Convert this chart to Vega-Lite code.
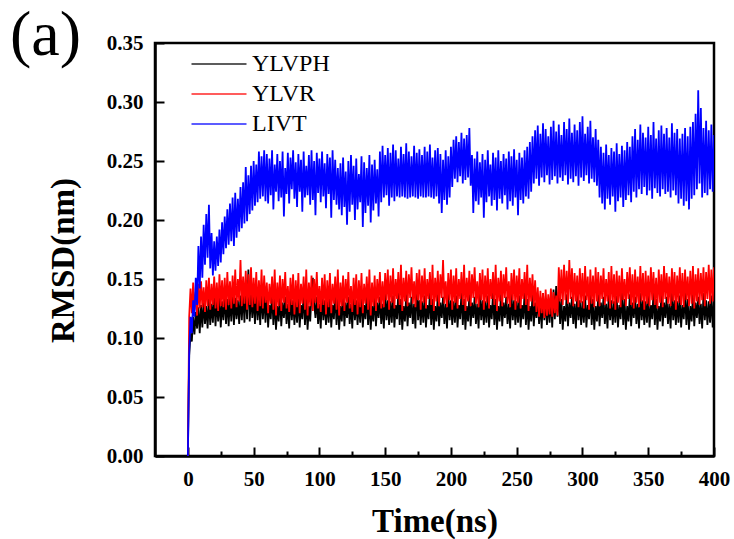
{
"$schema": "https://vega.github.io/schema/vega-lite/v6.json",
"width": 559, "height": 413,
"autosize": "none",
"padding": {"left": 155, "top": 43, "right": 20, "bottom": 83},
"background": "white",
"title": {"text": "(a)", "anchor": "start", "frame": "group", "orient": "top", "font": "Liberation Serif", "fontSize": 64, "fontWeight": "normal", "color": "black", "baseline": "alphabetic", "offset": -87, "dx": -145},
"config": {
 "view": {"stroke": "black", "strokeWidth": 2.5},
 "axis": {"grid": false, "domainColor": "black", "domainWidth": 2.5, "tickColor": "black", "tickWidth": 2, "labelFont": "Liberation Serif", "labelFontWeight": "bold", "labelFontSize": 21, "labelColor": "black", "titleFont": "Liberation Serif", "titleFontWeight": "bold", "titleFontSize": 33, "titleColor": "black", "labelFlush": false, "labelOverlap": false, "labelBound": false}
},
"data": {"values": [
{"t":0,"a":0,"b":0,"c":0},
{"t":1,"a":0.085,"b":0.118,"c":0.088},
{"t":2,"a":0.104,"b":0.142,"c":0.118},
{"t":3,"a":0.097,"b":0.121,"c":0.104},
{"t":4,"a":0.118,"b":0.147,"c":0.132},
{"t":5,"a":0.103,"b":0.124,"c":0.118},
{"t":6,"a":0.122,"b":0.139,"c":0.151},
{"t":7,"a":0.108,"b":0.119,"c":0.128},
{"t":8,"a":0.126,"b":0.146,"c":0.178},
{"t":9,"a":0.104,"b":0.125,"c":0.142},
{"t":10,"a":0.128,"b":0.148,"c":0.186},
{"t":11,"a":0.109,"b":0.126,"c":0.151},
{"t":12,"a":0.131,"b":0.143,"c":0.196},
{"t":13,"a":0.112,"b":0.122,"c":0.162},
{"t":14,"a":0.127,"b":0.149,"c":0.205},
{"t":15,"a":0.108,"b":0.127,"c":0.168},
{"t":16,"a":0.133,"b":0.151,"c":0.213},
{"t":17,"a":0.111,"b":0.124,"c":0.159},
{"t":18,"a":0.129,"b":0.146,"c":0.189},
{"t":19,"a":0.113,"b":0.128,"c":0.153},
{"t":20,"a":0.136,"b":0.152,"c":0.182},
{"t":21,"a":0.110,"b":0.125,"c":0.157},
{"t":22,"a":0.132,"b":0.147,"c":0.186},
{"t":23,"a":0.114,"b":0.123,"c":0.161},
{"t":24,"a":0.134,"b":0.154,"c":0.192},
{"t":25,"a":0.109,"b":0.127,"c":0.164},
{"t":26,"a":0.131,"b":0.149,"c":0.198},
{"t":27,"a":0.115,"b":0.126,"c":0.171},
{"t":28,"a":0.137,"b":0.151,"c":0.203},
{"t":29,"a":0.112,"b":0.124,"c":0.176},
{"t":30,"a":0.133,"b":0.156,"c":0.209},
{"t":31,"a":0.110,"b":0.128,"c":0.179},
{"t":32,"a":0.135,"b":0.148,"c":0.214},
{"t":33,"a":0.114,"b":0.125,"c":0.182},
{"t":34,"a":0.138,"b":0.153,"c":0.219},
{"t":35,"a":0.111,"b":0.129,"c":0.178},
{"t":36,"a":0.134,"b":0.158,"c":0.223},
{"t":37,"a":0.116,"b":0.126,"c":0.185},
{"t":38,"a":0.132,"b":0.150,"c":0.218},
{"t":39,"a":0.112,"b":0.131,"c":0.190},
{"t":40,"a":0.136,"b":0.166,"c":0.228},
{"t":41,"a":0.115,"b":0.127,"c":0.193},
{"t":42,"a":0.139,"b":0.152,"c":0.232},
{"t":43,"a":0.113,"b":0.129,"c":0.197},
{"t":44,"a":0.141,"b":0.157,"c":0.245},
{"t":45,"a":0.116,"b":0.124,"c":0.199},
{"t":46,"a":0.158,"b":0.154,"c":0.238},
{"t":47,"a":0.114,"b":0.128,"c":0.205},
{"t":48,"a":0.137,"b":0.160,"c":0.246},
{"t":49,"a":0.117,"b":0.126,"c":0.208},
{"t":50,"a":0.135,"b":0.151,"c":0.250},
{"t":51,"a":0.112,"b":0.129,"c":0.212},
{"t":52,"a":0.138,"b":0.156,"c":0.247},
{"t":53,"a":0.115,"b":0.123,"c":0.215},
{"t":54,"a":0.134,"b":0.149,"c":0.258},
{"t":55,"a":0.111,"b":0.127,"c":0.218},
{"t":56,"a":0.139,"b":0.158,"c":0.254},
{"t":57,"a":0.116,"b":0.125,"c":0.220},
{"t":58,"a":0.136,"b":0.153,"c":0.259},
{"t":59,"a":0.113,"b":0.130,"c":0.216},
{"t":60,"a":0.140,"b":0.147,"c":0.256},
{"t":61,"a":0.109,"b":0.121,"c":0.214},
{"t":62,"a":0.128,"b":0.146,"c":0.252},
{"t":63,"a":0.116,"b":0.129,"c":0.221},
{"t":64,"a":0.139,"b":0.152,"c":0.259},
{"t":65,"a":0.111,"b":0.124,"c":0.209},
{"t":66,"a":0.133,"b":0.158,"c":0.247},
{"t":67,"a":0.107,"b":0.119,"c":0.224},
{"t":68,"a":0.127,"b":0.147,"c":0.256},
{"t":69,"a":0.114,"b":0.127,"c":0.216},
{"t":70,"a":0.137,"b":0.153,"c":0.250},
{"t":71,"a":0.110,"b":0.123,"c":0.219},
{"t":72,"a":0.130,"b":0.150,"c":0.258},
{"t":73,"a":0.117,"b":0.130,"c":0.203},
{"t":74,"a":0.135,"b":0.156,"c":0.244},
{"t":75,"a":0.112,"b":0.125,"c":0.222},
{"t":76,"a":0.129,"b":0.144,"c":0.257},
{"t":77,"a":0.108,"b":0.122,"c":0.214},
{"t":78,"a":0.138,"b":0.151,"c":0.253},
{"t":79,"a":0.115,"b":0.128,"c":0.226},
{"t":80,"a":0.132,"b":0.154,"c":0.259},
{"t":81,"a":0.111,"b":0.120,"c":0.218},
{"t":82,"a":0.131,"b":0.149,"c":0.249},
{"t":83,"a":0.113,"b":0.126,"c":0.211},
{"t":84,"a":0.136,"b":0.155,"c":0.256},
{"t":85,"a":0.109,"b":0.121,"c":0.224},
{"t":86,"a":0.128,"b":0.146,"c":0.251},
{"t":87,"a":0.116,"b":0.129,"c":0.207},
{"t":88,"a":0.139,"b":0.152,"c":0.258},
{"t":89,"a":0.111,"b":0.124,"c":0.219},
{"t":90,"a":0.133,"b":0.158,"c":0.246},
{"t":91,"a":0.107,"b":0.119,"c":0.221},
{"t":92,"a":0.127,"b":0.147,"c":0.255},
{"t":93,"a":0.114,"b":0.127,"c":0.213},
{"t":94,"a":0.137,"b":0.153,"c":0.259},
{"t":95,"a":0.151,"b":0.123,"c":0.217},
{"t":96,"a":0.130,"b":0.150,"c":0.250},
{"t":97,"a":0.117,"b":0.130,"c":0.204},
{"t":98,"a":0.135,"b":0.156,"c":0.257},
{"t":99,"a":0.112,"b":0.125,"c":0.223},
{"t":100,"a":0.129,"b":0.144,"c":0.252},
{"t":101,"a":0.108,"b":0.122,"c":0.215},
{"t":102,"a":0.138,"b":0.151,"c":0.258},
{"t":103,"a":0.115,"b":0.128,"c":0.220},
{"t":104,"a":0.132,"b":0.154,"c":0.248},
{"t":105,"a":0.111,"b":0.120,"c":0.210},
{"t":106,"a":0.131,"b":0.149,"c":0.256},
{"t":107,"a":0.113,"b":0.126,"c":0.222},
{"t":108,"a":0.136,"b":0.155,"c":0.253},
{"t":109,"a":0.109,"b":0.121,"c":0.202},
{"t":110,"a":0.128,"b":0.146,"c":0.259},
{"t":111,"a":0.116,"b":0.129,"c":0.217},
{"t":112,"a":0.139,"b":0.152,"c":0.251},
{"t":113,"a":0.111,"b":0.124,"c":0.213},
{"t":114,"a":0.133,"b":0.158,"c":0.244},
{"t":115,"a":0.107,"b":0.119,"c":0.209},
{"t":116,"a":0.127,"b":0.147,"c":0.248},
{"t":117,"a":0.114,"b":0.127,"c":0.204},
{"t":118,"a":0.137,"b":0.153,"c":0.253},
{"t":119,"a":0.110,"b":0.123,"c":0.211},
{"t":120,"a":0.130,"b":0.150,"c":0.241},
{"t":121,"a":0.117,"b":0.130,"c":0.196},
{"t":122,"a":0.135,"b":0.156,"c":0.250},
{"t":123,"a":0.112,"b":0.125,"c":0.207},
{"t":124,"a":0.129,"b":0.144,"c":0.255},
{"t":125,"a":0.108,"b":0.122,"c":0.213},
{"t":126,"a":0.138,"b":0.151,"c":0.246},
{"t":127,"a":0.115,"b":0.128,"c":0.200},
{"t":128,"a":0.132,"b":0.154,"c":0.252},
{"t":129,"a":0.111,"b":0.120,"c":0.209},
{"t":130,"a":0.131,"b":0.149,"c":0.239},
{"t":131,"a":0.113,"b":0.126,"c":0.215},
{"t":132,"a":0.136,"b":0.155,"c":0.254},
{"t":133,"a":0.109,"b":0.121,"c":0.194},
{"t":134,"a":0.128,"b":0.146,"c":0.249},
{"t":135,"a":0.116,"b":0.129,"c":0.206},
{"t":136,"a":0.139,"b":0.152,"c":0.244},
{"t":137,"a":0.111,"b":0.124,"c":0.212},
{"t":138,"a":0.133,"b":0.158,"c":0.255},
{"t":139,"a":0.107,"b":0.119,"c":0.198},
{"t":140,"a":0.127,"b":0.147,"c":0.247},
{"t":141,"a":0.114,"b":0.127,"c":0.208},
{"t":142,"a":0.137,"b":0.153,"c":0.251},
{"t":143,"a":0.110,"b":0.123,"c":0.214},
{"t":144,"a":0.130,"b":0.150,"c":0.243},
{"t":145,"a":0.117,"b":0.130,"c":0.203},
{"t":146,"a":0.135,"b":0.156,"c":0.258},
{"t":147,"a":0.112,"b":0.125,"c":0.215},
{"t":148,"a":0.129,"b":0.148,"c":0.263},
{"t":149,"a":0.108,"b":0.126,"c":0.219},
{"t":150,"a":0.138,"b":0.155,"c":0.255},
{"t":151,"a":0.115,"b":0.132,"c":0.221},
{"t":152,"a":0.132,"b":0.158,"c":0.261},
{"t":153,"a":0.111,"b":0.124,"c":0.212},
{"t":154,"a":0.131,"b":0.153,"c":0.257},
{"t":155,"a":0.113,"b":0.130,"c":0.219},
{"t":156,"a":0.136,"b":0.159,"c":0.264},
{"t":157,"a":0.109,"b":0.125,"c":0.216},
{"t":158,"a":0.128,"b":0.150,"c":0.259},
{"t":159,"a":0.116,"b":0.133,"c":0.220},
{"t":160,"a":0.139,"b":0.156,"c":0.252},
{"t":161,"a":0.111,"b":0.128,"c":0.219},
{"t":162,"a":0.133,"b":0.162,"c":0.262},
{"t":163,"a":0.107,"b":0.123,"c":0.220},
{"t":164,"a":0.127,"b":0.151,"c":0.256},
{"t":165,"a":0.114,"b":0.131,"c":0.219},
{"t":166,"a":0.137,"b":0.157,"c":0.265},
{"t":167,"a":0.110,"b":0.127,"c":0.218},
{"t":168,"a":0.130,"b":0.154,"c":0.258},
{"t":169,"a":0.117,"b":0.134,"c":0.219},
{"t":170,"a":0.135,"b":0.160,"c":0.254},
{"t":171,"a":0.112,"b":0.129,"c":0.220},
{"t":172,"a":0.129,"b":0.148,"c":0.263},
{"t":173,"a":0.108,"b":0.126,"c":0.219},
{"t":174,"a":0.149,"b":0.155,"c":0.257},
{"t":175,"a":0.115,"b":0.132,"c":0.218},
{"t":176,"a":0.132,"b":0.158,"c":0.260},
{"t":177,"a":0.111,"b":0.124,"c":0.220},
{"t":178,"a":0.131,"b":0.153,"c":0.255},
{"t":179,"a":0.113,"b":0.130,"c":0.219},
{"t":180,"a":0.136,"b":0.159,"c":0.262},
{"t":181,"a":0.109,"b":0.125,"c":0.219},
{"t":182,"a":0.128,"b":0.150,"c":0.258},
{"t":183,"a":0.116,"b":0.133,"c":0.220},
{"t":184,"a":0.139,"b":0.156,"c":0.264},
{"t":185,"a":0.111,"b":0.128,"c":0.219},
{"t":186,"a":0.133,"b":0.162,"c":0.253},
{"t":187,"a":0.107,"b":0.123,"c":0.218},
{"t":188,"a":0.127,"b":0.151,"c":0.259},
{"t":189,"a":0.114,"b":0.131,"c":0.220},
{"t":190,"a":0.137,"b":0.157,"c":0.261},
{"t":191,"a":0.110,"b":0.127,"c":0.214},
{"t":192,"a":0.130,"b":0.154,"c":0.256},
{"t":193,"a":0.117,"b":0.134,"c":0.206},
{"t":194,"a":0.135,"b":0.166,"c":0.251},
{"t":195,"a":0.112,"b":0.129,"c":0.217},
{"t":196,"a":0.129,"b":0.148,"c":0.259},
{"t":197,"a":0.108,"b":0.126,"c":0.213},
{"t":198,"a":0.138,"b":0.155,"c":0.254},
{"t":199,"a":0.115,"b":0.132,"c":0.219},
{"t":200,"a":0.132,"b":0.158,"c":0.262},
{"t":201,"a":0.111,"b":0.124,"c":0.228},
{"t":202,"a":0.131,"b":0.153,"c":0.268},
{"t":203,"a":0.113,"b":0.130,"c":0.235},
{"t":204,"a":0.136,"b":0.159,"c":0.271},
{"t":205,"a":0.109,"b":0.125,"c":0.232},
{"t":206,"a":0.128,"b":0.150,"c":0.266},
{"t":207,"a":0.116,"b":0.133,"c":0.237},
{"t":208,"a":0.139,"b":0.156,"c":0.274},
{"t":209,"a":0.111,"b":0.128,"c":0.231},
{"t":210,"a":0.133,"b":0.162,"c":0.269},
{"t":211,"a":0.107,"b":0.123,"c":0.234},
{"t":212,"a":0.127,"b":0.151,"c":0.272},
{"t":213,"a":0.114,"b":0.131,"c":0.236},
{"t":214,"a":0.137,"b":0.157,"c":0.278},
{"t":215,"a":0.110,"b":0.127,"c":0.229},
{"t":216,"a":0.130,"b":0.154,"c":0.255},
{"t":217,"a":0.117,"b":0.134,"c":0.206},
{"t":218,"a":0.135,"b":0.160,"c":0.252},
{"t":219,"a":0.112,"b":0.129,"c":0.216},
{"t":220,"a":0.129,"b":0.148,"c":0.258},
{"t":221,"a":0.108,"b":0.126,"c":0.213},
{"t":222,"a":0.138,"b":0.155,"c":0.249},
{"t":223,"a":0.115,"b":0.132,"c":0.219},
{"t":224,"a":0.132,"b":0.158,"c":0.256},
{"t":225,"a":0.111,"b":0.124,"c":0.202},
{"t":226,"a":0.131,"b":0.153,"c":0.251},
{"t":227,"a":0.113,"b":0.130,"c":0.215},
{"t":228,"a":0.136,"b":0.159,"c":0.259},
{"t":229,"a":0.109,"b":0.125,"c":0.220},
{"t":230,"a":0.128,"b":0.150,"c":0.247},
{"t":231,"a":0.116,"b":0.133,"c":0.212},
{"t":232,"a":0.139,"b":0.156,"c":0.257},
{"t":233,"a":0.111,"b":0.128,"c":0.217},
{"t":234,"a":0.133,"b":0.162,"c":0.253},
{"t":235,"a":0.107,"b":0.123,"c":0.208},
{"t":236,"a":0.127,"b":0.151,"c":0.259},
{"t":237,"a":0.114,"b":0.131,"c":0.218},
{"t":238,"a":0.137,"b":0.157,"c":0.250},
{"t":239,"a":0.110,"b":0.127,"c":0.214},
{"t":240,"a":0.130,"b":0.154,"c":0.256},
{"t":241,"a":0.117,"b":0.134,"c":0.221},
{"t":242,"a":0.135,"b":0.160,"c":0.252},
{"t":243,"a":0.112,"b":0.129,"c":0.209},
{"t":244,"a":0.129,"b":0.148,"c":0.258},
{"t":245,"a":0.108,"b":0.126,"c":0.216},
{"t":246,"a":0.138,"b":0.155,"c":0.254},
{"t":247,"a":0.115,"b":0.132,"c":0.212},
{"t":248,"a":0.132,"b":0.158,"c":0.260},
{"t":249,"a":0.111,"b":0.124,"c":0.219},
{"t":250,"a":0.131,"b":0.153,"c":0.251},
{"t":251,"a":0.113,"b":0.130,"c":0.204},
{"t":252,"a":0.136,"b":0.159,"c":0.257},
{"t":253,"a":0.109,"b":0.125,"c":0.217},
{"t":254,"a":0.128,"b":0.150,"c":0.253},
{"t":255,"a":0.116,"b":0.133,"c":0.214},
{"t":256,"a":0.139,"b":0.156,"c":0.259},
{"t":257,"a":0.111,"b":0.128,"c":0.220},
{"t":258,"a":0.133,"b":0.162,"c":0.262},
{"t":259,"a":0.107,"b":0.123,"c":0.218},
{"t":260,"a":0.127,"b":0.151,"c":0.266},
{"t":261,"a":0.114,"b":0.131,"c":0.224},
{"t":262,"a":0.137,"b":0.154,"c":0.271},
{"t":263,"a":0.110,"b":0.127,"c":0.231},
{"t":264,"a":0.130,"b":0.149,"c":0.276},
{"t":265,"a":0.117,"b":0.122,"c":0.235},
{"t":266,"a":0.135,"b":0.143,"c":0.280},
{"t":267,"a":0.112,"b":0.118,"c":0.229},
{"t":268,"a":0.129,"b":0.140,"c":0.273},
{"t":269,"a":0.108,"b":0.121,"c":0.236},
{"t":270,"a":0.138,"b":0.138,"c":0.282},
{"t":271,"a":0.115,"b":0.117,"c":0.232},
{"t":272,"a":0.132,"b":0.141,"c":0.277},
{"t":273,"a":0.111,"b":0.119,"c":0.238},
{"t":274,"a":0.131,"b":0.137,"c":0.271},
{"t":275,"a":0.113,"b":0.120,"c":0.230},
{"t":276,"a":0.136,"b":0.142,"c":0.279},
{"t":277,"a":0.109,"b":0.118,"c":0.234},
{"t":278,"a":0.141,"b":0.139,"c":0.284},
{"t":279,"a":0.116,"b":0.121,"c":0.237},
{"t":280,"a":0.144,"b":0.136,"c":0.275},
{"t":281,"a":0.118,"b":0.119,"c":0.231},
{"t":282,"a":0.139,"b":0.160,"c":0.281},
{"t":283,"a":0.112,"b":0.131,"c":0.236},
{"t":284,"a":0.133,"b":0.158,"c":0.272},
{"t":285,"a":0.107,"b":0.128,"c":0.233},
{"t":286,"a":0.127,"b":0.162,"c":0.283},
{"t":287,"a":0.114,"b":0.132,"c":0.238},
{"t":288,"a":0.137,"b":0.157,"c":0.277},
{"t":289,"a":0.110,"b":0.129,"c":0.230},
{"t":290,"a":0.130,"b":0.166,"c":0.286},
{"t":291,"a":0.117,"b":0.133,"c":0.235},
{"t":292,"a":0.135,"b":0.159,"c":0.274},
{"t":293,"a":0.112,"b":0.127,"c":0.232},
{"t":294,"a":0.129,"b":0.155,"c":0.281},
{"t":295,"a":0.108,"b":0.131,"c":0.237},
{"t":296,"a":0.138,"b":0.153,"c":0.276},
{"t":297,"a":0.115,"b":0.126,"c":0.229},
{"t":298,"a":0.132,"b":0.159,"c":0.283},
{"t":299,"a":0.111,"b":0.130,"c":0.236},
{"t":300,"a":0.131,"b":0.155,"c":0.288},
{"t":301,"a":0.113,"b":0.125,"c":0.233},
{"t":302,"a":0.136,"b":0.161,"c":0.273},
{"t":303,"a":0.109,"b":0.132,"c":0.238},
{"t":304,"a":0.128,"b":0.152,"c":0.279},
{"t":305,"a":0.116,"b":0.124,"c":0.231},
{"t":306,"a":0.139,"b":0.158,"c":0.284},
{"t":307,"a":0.111,"b":0.129,"c":0.235},
{"t":308,"a":0.133,"b":0.153,"c":0.270},
{"t":309,"a":0.107,"b":0.126,"c":0.232},
{"t":310,"a":0.127,"b":0.160,"c":0.277},
{"t":311,"a":0.114,"b":0.131,"c":0.229},
{"t":312,"a":0.137,"b":0.156,"c":0.268},
{"t":313,"a":0.110,"b":0.127,"c":0.219},
{"t":314,"a":0.130,"b":0.153,"c":0.262},
{"t":315,"a":0.117,"b":0.133,"c":0.214},
{"t":316,"a":0.135,"b":0.159,"c":0.257},
{"t":317,"a":0.112,"b":0.128,"c":0.209},
{"t":318,"a":0.129,"b":0.150,"c":0.264},
{"t":319,"a":0.108,"b":0.131,"c":0.218},
{"t":320,"a":0.138,"b":0.156,"c":0.255},
{"t":321,"a":0.115,"b":0.125,"c":0.213},
{"t":322,"a":0.132,"b":0.161,"c":0.261},
{"t":323,"a":0.111,"b":0.129,"c":0.220},
{"t":324,"a":0.131,"b":0.154,"c":0.258},
{"t":325,"a":0.113,"b":0.124,"c":0.207},
{"t":326,"a":0.136,"b":0.157,"c":0.265},
{"t":327,"a":0.109,"b":0.130,"c":0.216},
{"t":328,"a":0.128,"b":0.153,"c":0.256},
{"t":329,"a":0.116,"b":0.126,"c":0.219},
{"t":330,"a":0.139,"b":0.159,"c":0.263},
{"t":331,"a":0.111,"b":0.132,"c":0.211},
{"t":332,"a":0.133,"b":0.150,"c":0.259},
{"t":333,"a":0.107,"b":0.127,"c":0.217},
{"t":334,"a":0.127,"b":0.156,"c":0.266},
{"t":335,"a":0.114,"b":0.133,"c":0.221},
{"t":336,"a":0.137,"b":0.160,"c":0.262},
{"t":337,"a":0.110,"b":0.128,"c":0.215},
{"t":338,"a":0.130,"b":0.154,"c":0.271},
{"t":339,"a":0.117,"b":0.125,"c":0.224},
{"t":340,"a":0.135,"b":0.158,"c":0.277},
{"t":341,"a":0.112,"b":0.130,"c":0.219},
{"t":342,"a":0.129,"b":0.152,"c":0.268},
{"t":343,"a":0.108,"b":0.126,"c":0.226},
{"t":344,"a":0.138,"b":0.161,"c":0.281},
{"t":345,"a":0.115,"b":0.131,"c":0.222},
{"t":346,"a":0.132,"b":0.155,"c":0.274},
{"t":347,"a":0.111,"b":0.124,"c":0.228},
{"t":348,"a":0.131,"b":0.157,"c":0.270},
{"t":349,"a":0.113,"b":0.129,"c":0.221},
{"t":350,"a":0.136,"b":0.153,"c":0.279},
{"t":351,"a":0.109,"b":0.127,"c":0.225},
{"t":352,"a":0.128,"b":0.160,"c":0.272},
{"t":353,"a":0.116,"b":0.132,"c":0.218},
{"t":354,"a":0.139,"b":0.156,"c":0.283},
{"t":355,"a":0.111,"b":0.128,"c":0.227},
{"t":356,"a":0.133,"b":0.151,"c":0.269},
{"t":357,"a":0.107,"b":0.125,"c":0.223},
{"t":358,"a":0.127,"b":0.158,"c":0.276},
{"t":359,"a":0.114,"b":0.130,"c":0.220},
{"t":360,"a":0.137,"b":0.154,"c":0.280},
{"t":361,"a":0.110,"b":0.126,"c":0.226},
{"t":362,"a":0.130,"b":0.161,"c":0.273},
{"t":363,"a":0.117,"b":0.133,"c":0.222},
{"t":364,"a":0.135,"b":0.155,"c":0.278},
{"t":365,"a":0.112,"b":0.129,"c":0.224},
{"t":366,"a":0.129,"b":0.152,"c":0.270},
{"t":367,"a":0.108,"b":0.127,"c":0.219},
{"t":368,"a":0.138,"b":0.159,"c":0.282},
{"t":369,"a":0.115,"b":0.131,"c":0.225},
{"t":370,"a":0.132,"b":0.156,"c":0.274},
{"t":371,"a":0.111,"b":0.124,"c":0.221},
{"t":372,"a":0.131,"b":0.153,"c":0.277},
{"t":373,"a":0.113,"b":0.130,"c":0.214},
{"t":374,"a":0.136,"b":0.160,"c":0.269},
{"t":375,"a":0.109,"b":0.128,"c":0.218},
{"t":376,"a":0.128,"b":0.155,"c":0.273},
{"t":377,"a":0.116,"b":0.126,"c":0.212},
{"t":378,"a":0.139,"b":0.158,"c":0.278},
{"t":379,"a":0.111,"b":0.132,"c":0.216},
{"t":380,"a":0.133,"b":0.152,"c":0.271},
{"t":381,"a":0.107,"b":0.127,"c":0.209},
{"t":382,"a":0.127,"b":0.157,"c":0.279},
{"t":383,"a":0.114,"b":0.129,"c":0.218},
{"t":384,"a":0.137,"b":0.161,"c":0.283},
{"t":385,"a":0.110,"b":0.125,"c":0.221},
{"t":386,"a":0.130,"b":0.154,"c":0.290},
{"t":387,"a":0.117,"b":0.131,"c":0.226},
{"t":388,"a":0.135,"b":0.159,"c":0.310},
{"t":389,"a":0.112,"b":0.128,"c":0.231},
{"t":390,"a":0.129,"b":0.155,"c":0.295},
{"t":391,"a":0.108,"b":0.132,"c":0.219},
{"t":392,"a":0.138,"b":0.160,"c":0.278},
{"t":393,"a":0.115,"b":0.127,"c":0.223},
{"t":394,"a":0.132,"b":0.156,"c":0.284},
{"t":395,"a":0.111,"b":0.133,"c":0.221},
{"t":396,"a":0.131,"b":0.162,"c":0.276},
{"t":397,"a":0.113,"b":0.129,"c":0.226},
{"t":398,"a":0.136,"b":0.158,"c":0.281},
{"t":399,"a":0.109,"b":0.131,"c":0.224},
{"t":400,"a":0.133,"b":0.160,"c":0.272}
]},
"encoding": {
 "x": {"field": "t", "type": "quantitative", "title": "Time(ns)",
  "scale": {"domain": [-25, 400], "nice": false, "zero": false},
  "axis": {"values": [0,25,50,75,100,125,150,175,200,225,250,275,300,325,350,375,400],
   "labelExpr": "datum.value % 50 === 0 ? datum.label : ''",
   "tickSize": {"condition": {"test": "datum.value % 50 === 0", "value": -9}, "value": -5},
   "labelPadding": 21, "titlePadding": 12}}
},
"layer": [
 {"mark": {"type": "line", "strokeWidth": 1.8, "clip": true},
  "encoding": {
   "y": {"field": "a", "type": "quantitative", "title": "RMSD(nm)",
    "scale": {"domain": [0, 0.35], "nice": false, "zero": true},
    "axis": {"values": [0,0.025,0.05,0.075,0.1,0.125,0.15,0.175,0.2,0.225,0.25,0.275,0.3,0.325,0.35],
     "labelExpr": "round(datum.value*1000) % 50 === 0 ? format(datum.value, '.2f') : ''",
     "tickSize": {"condition": {"test": "round(datum.value*1000) % 50 === 0", "value": -9}, "value": -5},
     "labelPadding": 21, "titlePadding": 26, "titleY": 217}},
   "color": {"datum": "YLVPH", "type": "nominal",
    "scale": {"domain": ["YLVPH", "YLVR", "LIVT"], "range": ["black", "red", "blue"]},
    "legend": {"title": null, "orient": "none", "legendX": 52, "legendY": 9, "padding": 0,
     "symbolType": "M-5,0H5", "symbolSize": 121, "symbolStrokeWidth": 1.3, "symbolOpacity": 0.85,
     "labelFont": "Liberation Serif", "labelFontSize": 24, "labelColor": "black", "labelOffset": 21, "rowPadding": 6}}
  }},
 {"mark": {"type": "line", "strokeWidth": 1.8, "clip": true},
  "encoding": {
   "y": {"field": "b", "type": "quantitative", "title": "RMSD(nm)"},
   "color": {"datum": "YLVR", "type": "nominal"}
  }},
 {"mark": {"type": "line", "strokeWidth": 1.8, "clip": true},
  "encoding": {
   "y": {"field": "c", "type": "quantitative", "title": "RMSD(nm)"},
   "color": {"datum": "LIVT", "type": "nominal"}
  }}
]
}
